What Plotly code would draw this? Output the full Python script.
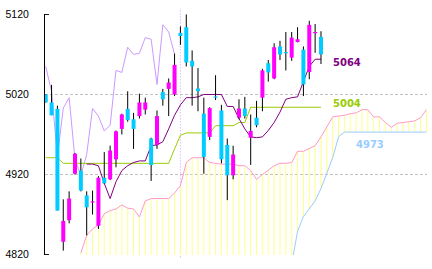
import plotly.graph_objects as go

# ---------------- data ----------------
opens  = [5020, 5010, 5002, 4836, 4863, 4921, 4925, 4894, 4885, 4856,
          4916, 4914, 4939, 4977, 5002, 4989, 4993, 5001, 4965, 4957,
          5023, 5027, 5020, 5097, 5104, 5062, 5027.5, 4996, 4967, 5017.5,
          5000, 4957, 4919, 4991, 5002.5, 4966, 4991, 5016, 5059, 5040,
          5080, 5073, 5066, 5085.5, 5076, 5048, 5096.5, 5092]
highs  = [5020.5, 5032, 5006, 4889, 4899, 4947, 4940, 4899, 4900, 4918,
          4948, 4956, 4975, 4996, 5024, 4997, 5021, 5016, 4966, 5000,
          5027, 5040, 5071, 5105, 5120, 5075, 5053, 5016, 5004, 5044,
          5007, 4965, 4956, 5014, 5017, 4995, 5012, 5052, 5063, 5084,
          5087, 5098, 5098, 5104, 5080, 5112, 5108, 5099]
lows   = [5010, 4994, 4875, 4825, 4859, 4920, 4899, 4844, 4870, 4852,
          4908, 4913, 4929, 4970, 4986, 4952, 4990, 4995, 4912, 4952,
          5006, 4993, 5018, 5082, 5055, 5006, 4999, 4921, 4963, 5013,
          4934, 4888, 4914, 4989, 4990, 4932, 4979, 4999, 5036, 5039,
          5063, 5050, 5062, 5085, 5018, 5039, 5072, 5058]
closes = [5010, 4994, 4875, 4862, 4890, 4946, 4900, 4879, 4886.5, 4916,
          4909, 4950, 4974, 4995, 4988, 4977, 5010, 5010, 4932, 4993,
          5014, 5035, 5057, 5093, 5060, 5055, 5024, 4942, 5003, 5016,
          4939, 4919, 4945, 5002.5, 4993, 4974.5, 4981.5, 5050, 5047.5, 5079,
          5070, 5071.5, 5091, 5089, 5032.5, 5107, 5098, 5070]

tenkan = [None] * 7 + [
    4933, 4933, 4931, 4909, 4890, 4911, 4925, 4931, 4935, 4937,
    4937, 4956, 4957, 4961, 4977, 4994, 5007, 5016, 5016, 5017,
    5020, 5020, 5020, 5020, 5005, 5005, 4990, 4977, 4967, 4966,
    4967, 4975, 4985, 4998, 5014, 5016, 5017, 5037, 5055, 5064, 5064]

kijun = [4941, 4941, 4941] + [4934] * 19 + [4952, 4969] + [4972] * 5 + \
        [4981] * 4 + [4985] * 2 + [5004] * 13

span_a = [None] * 6 + [
    4822, 4844, 4852, 4857, 4871, 4875, 4877, 4882, 4878, 4877,
    4867, 4887, 4890, 4890, 4890, 4890, 4897, 4906, 4935, 4941,
    4941, 4941, 4935, 4934, 4933, 4933, 4933, 4931, 4931, 4925,
    4914, 4920, 4926, 4931, 4934, 4934, 4935, 4949, 4949, 4952,
    4956, 4967, 4980, 4992, 4993, 4994, 4996, 4997, 5001, 5001,
    4992, 4992, 4985, 4979, 4984, 4985, 4986, 4987, 4991, 5001]

span_b = [None] * 42 + [4808, 4849, 4867.5, 4878, 4887, 4902.5, 4922.5,
                        4941, 4967] + [4973] * 15

tick_vals = [4820, 4920, 5020, 5120]
tick_text = ["4820", "4920", "5020", "5120"]

CHIKOU_SHIFT = 25
MARK_INDEX = 23
Y_RANGE = [4819.5, 5120.5]

# ---------------- colours ----------------
UP, DOWN = "#ff00ff", "#00ccff"
C_TENKAN, C_KIJUN = "#800080", "#99cc00"
C_CHIKOU, C_SPANA, C_SPANB, C_CLOUD = "#cc99ff", "#ff99cc", "#99ccff", "#ffff88"

n = len(closes)
idx = list(range(n))
fut = list(range(len(span_a)))

fig = go.Figure()

# cloud: vertical yellow lines between span A and span B (or axis floor)
cx, cy = [], []
for i in fut:
    if span_a[i] is None:
        continue
    lo = span_b[i] if span_b[i] is not None else Y_RANGE[0]
    cx += [i, i, None]
    cy += [span_a[i], lo, None]
fig.add_trace(go.Scatter(x=cx, y=cy, mode="lines",
                         line=dict(color=C_CLOUD, width=1), hoverinfo="skip"))

fig.add_trace(go.Scatter(x=fut, y=span_a, mode="lines",
                         line=dict(color=C_SPANA, width=1)))
fig.add_trace(go.Scatter(x=fut, y=span_b, mode="lines",
                         line=dict(color=C_SPANB, width=1)))

# lagging span (close shifted back)
fig.add_trace(go.Scatter(x=[i - CHIKOU_SHIFT for i in idx[CHIKOU_SHIFT:]],
                         y=closes[CHIKOU_SHIFT:], mode="lines",
                         line=dict(color=C_CHIKOU, width=1)))

fig.add_trace(go.Scatter(x=idx, y=kijun, mode="lines",
                         line=dict(color=C_KIJUN, width=1)))
fig.add_trace(go.Scatter(x=idx, y=tenkan, mode="lines",
                         line=dict(color=C_TENKAN, width=1)))

# candles: wicks then bodies
wx, wy = [], []
for i in idx:
    wx += [i, i, None]
    wy += [lows[i], highs[i], None]
fig.add_trace(go.Scatter(x=wx, y=wy, mode="lines",
                         line=dict(color="black", width=1)))

for color, is_up in ((UP, True), (DOWN, False)):
    bx, by = [], []
    for i in idx:
        if (closes[i] > opens[i]) == is_up:
            bx += [i, i, None]
            by += [opens[i], closes[i], None]
    fig.add_trace(go.Scatter(x=bx, y=by, mode="lines",
                             line=dict(color=color, width=4)))

# separator & frame ticks
fig.add_shape(type="line", xref="x", yref="paper", x0=MARK_INDEX, x1=MARK_INDEX,
              y0=-0.01, y1=1.025, line=dict(color=C_CHIKOU, width=1, dash="1px,2px"),
              layer="below")
for v in (tick_vals[0], tick_vals[-1]):
    fig.add_shape(type="line", xref="paper", yref="y", x0=0, x1=0.0105,
                  y0=v, y1=v, line=dict(color="black", width=1))

lab_font = dict(family="DejaVu Sans", size=10)
fig.add_annotation(x=48.75, y=tenkan[-1], text="<b>%d</b>" % tenkan[-1], showarrow=False,
                   xanchor="left", yanchor="middle", yshift=-3,
                   font=dict(lab_font, color=C_TENKAN))
fig.add_annotation(x=48.75, y=kijun[-1], text="<b>%d</b>" % kijun[-1], showarrow=False,
                   xanchor="left", yanchor="middle", yshift=4,
                   font=dict(lab_font, color=C_KIJUN))
fig.add_annotation(x=52.7, y=span_b[-1], text="<b>%d</b>" % span_b[-1], showarrow=False,
                   xanchor="left", yanchor="middle", yshift=-12,
                   font=dict(lab_font, color=C_SPANB))

fig.update_layout(width=432, height=269, margin=dict(l=45, r=5, t=14, b=14),
                  plot_bgcolor="white", paper_bgcolor="white", showlegend=False)
fig.update_xaxes(range=[-0.12, 65.1], showgrid=False, zeroline=False,
                 showticklabels=False, showline=False, ticks="")
fig.update_yaxes(range=Y_RANGE, tickvals=tick_vals, ticktext=tick_text,
                 showgrid=True, gridcolor="#c0c0c0", griddash="3px,2px", gridwidth=1,
                 zeroline=False, showline=True, linecolor="black", linewidth=1,
                 ticks="", ticklabelstandoff=13,
                 tickfont=dict(family="Liberation Sans", size=10.5, color="black"))

fig.write_html("out.html")
